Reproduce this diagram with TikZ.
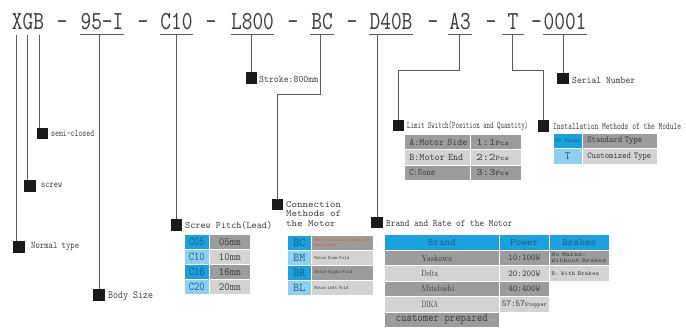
\documentclass[tikz,border=0pt]{standalone}
\usepackage{fontspec}
\usepackage{graphicx}
\definecolor{bblue}{HTML}{1BA1DE}
\definecolor{lblue}{HTML}{8DD0F1}
\definecolor{gA}{HTML}{9C9C9C}
\definecolor{gB}{HTML}{D3D3D3}
\definecolor{tblue}{HTML}{1E5A8C}
\definecolor{txtc}{HTML}{3C3C3C}
\definecolor{codec}{HTML}{3A3A3A}
\definecolor{lnc}{HTML}{5A5A5A}
\definecolor{boxc}{HTML}{1A1A1A}
\definecolor{redt}{HTML}{D9534F}
\newcommand\fw[2]{\resizebox{#1pt}{\height}{#2}}
\newcommand\cseg[1]{\scalebox{0.8}[1]{#1}}
\begin{document}
\begin{tikzpicture}[x=1pt,y=-1pt,
 code/.style={font=\fontsize{26}{26}\selectfont\ttfamily, text=codec, inner xsep=0pt, inner ysep=4pt, anchor=base},
 uline/.style={draw=lnc, line width=0.8pt},
 conn/.style={draw=lnc, line width=0.8pt},
 sq/.style={fill=boxc, minimum size=11.5pt, inner sep=0pt},
 lbl/.style={font=\fontsize{10}{12}\selectfont\ttfamily, text=txtc, inner sep=0pt, anchor=west},
 cell/.style={draw=white, line width=0.6pt, inner sep=0pt, anchor=north west, text=txtc},
 bluet/.style={text=tblue},
]
\useasboundingbox (0,0) rectangle (686,336);
\fill[white] (0,0) rectangle (686,336);
% code line
\node[code] (cxgb) at (28,30) {\cseg{XGB}};
\node[code] (cd1) at (62,30) {\cseg{-}};
\node[code] (c95) at (102,30) {\cseg{95-I}};
\node[code] (cd2) at (143,30) {\cseg{-}};
\node[code] (cc10) at (176.5,30) {\cseg{C10}};
\node[code] (cd3) at (211,30) {\cseg{-}};
\node[code] (cl800) at (252.5,30) {\cseg{L800}};
\node[code] (cd4) at (293,30) {\cseg{-}};
\node[code] (cbc) at (322,30) {\cseg{BC}};
\node[code] (cd5) at (352,30) {\cseg{-}};
\node[code] (cd40b) at (391,30) {\cseg{D40B}};
\node[code] (cd6) at (433,30) {\cseg{-}};
\node[code] (ca3) at (460,30) {\cseg{A3}};
\node[code] (cd7) at (491,30) {\cseg{-}};
\node[code] (ct) at (513,30) {\cseg{T}};
\node[code] (cd8) at (536.5,30) {\cseg{-}};
\node[code] (c0001) at (565,30) {\cseg{0001}};
% underlines
\draw[uline] (c95.south west) -- (c95.south east);
\draw[uline] (cc10.south west) -- (cc10.south east);
\draw[uline] (cl800.south west) -- (cl800.south east);
\draw[uline] ([xshift=-1pt]cbc.south west) -- ([xshift=1pt]cbc.south east);
\draw[uline] (cd40b.south west) -- (cd40b.south east);
\draw[uline] ([xshift=-1pt]ca3.south west) -- ([xshift=1pt]ca3.south east);
\draw[uline] ([xshift=-5.5pt]ct.south west) -- ([xshift=5.5pt]ct.south east);
\draw[uline] (c0001.south west) -- (c0001.south east);
% label boxes
\node[sq] (bnorm) at (19,247) {};
\node[sq] (bscrew) at (30,186) {};
\node[sq] (bsemi) at (42.5,133.5) {};
\node[sq] (bbody) at (99,295) {};
\node[sq] (bpitch) at (176.5,225) {};
\node[sq] (bconn) at (277.5,204.5) {};
\node[sq] (bbrand) at (377,222.5) {};
\node[sq] (bstroke) at (251.5,78) {};
\node[sq] (bserial) at (563,78.5) {};
\node[sq] (blimit) at (398.5,125.5) {};
\node[sq] (binst) at (543.5,126) {};
% connectors
\draw[conn] ([xshift=-3pt]cxgb.south -| bnorm.north) -- ([xshift=-3pt]bnorm.north);
\draw[conn] ([xshift=-3pt]cxgb.south -| bscrew.north) -- ([xshift=-3pt]bscrew.north);
\draw[conn] ([xshift=-3.5pt]cxgb.south -| bsemi.north) -- ([xshift=-3.5pt]bsemi.north);
\draw[conn] (c95.south -| bbody.north) -- (bbody.north);
\draw[conn] (cc10.south -| bpitch.north) -- (bpitch.north);
\draw[conn] (cl800.south -| bstroke.north) -- (bstroke.north);
\draw[conn] ([xshift=-2pt]cbc.south) -- ++(0,60) -| (bconn.north);
\draw[conn] (cd40b.south -| bbrand.north) -- (bbrand.north);
\draw[conn] ([xshift=-1pt]ca3.south) -- ++(0,36) -| (blimit.north);
\draw[conn] ([xshift=-1pt]ct.south) -- ++(0,36) -| (binst.north);
\draw[conn] (c0001.south -| bserial.north) -- (bserial.north);
% labels
\node[lbl] (lsemi) at (51,133) {\fw{43}{semi-closed}};
\node[lbl] (lscrew) at (41,185) {\fw{21}{screw}};
\node[lbl] (lnorm) at (31,247) {\fw{48}{Normal type}};
\node[lbl, font=\fontsize{11}{13}\selectfont\ttfamily] (lbody) at (108,296) {\fw{45}{Body Size}};
\node[lbl] (lpitch) at (185,225) {\fw{87}{Screw Pitch(Lead)}};
\node[lbl, font=\fontsize{9.5}{9.5}\selectfont\ttfamily] (lconn) at (286,215) {\fw{55}{\begin{tabular}{@{}l@{}}Connection\\Methods of\\the Motor\end{tabular}}};
\node[lbl] (lbrand) at (386,223) {\fw{126}{Brand and Rate of the Motor}};
\node[lbl] (lstroke) at (259,79) {\fw{59}{Stroke:800mm}};
\node[lbl] (lserial) at (572,80) {\fw{63}{Serial Number}};
\node[lbl] (llimit) at (407,126) {\fw{121}{Limit Switch(Position and Quantity)}};
\node[lbl] (linst) at (553,126) {\fw{128}{Installation Methods of the Module}};
% screw pitch table
\begin{scope}[every node/.append style={minimum height=15pt}]
\tikzset{pa/.style={cell, bluet, minimum width=25pt, font=\fontsize{12}{12}\selectfont\ttfamily},
         pb/.style={cell, minimum width=41pt, font=\fontsize{11}{11}\selectfont\ttfamily}}
\node[pa, fill=bblue] (p1a) at (184,234) {\fw{16}{C05}};
\node[pb, fill=gA] (p1b) at (209,234) {\fw{22}{05mm}};
\node[pa, fill=lblue] (p2a) at (184,249) {\fw{16}{C10}};
\node[pb, fill=gB] (p2b) at (209,249) {\fw{22}{10mm}};
\node[pa, fill=bblue] (p3a) at (184,264) {\fw{16}{C16}};
\node[pb, fill=gA] (p3b) at (209,264) {\fw{22}{16mm}};
\node[pa, fill=lblue] (p4a) at (184,279) {\fw{16}{C20}};
\node[pb, fill=gB] (p4b) at (209,279) {\fw{22}{20mm}};
% connection table
\tikzset{qa/.style={cell, bluet, minimum width=24pt, font=\fontsize{12}{12}\selectfont\ttfamily},
         qb/.style={cell, minimum width=62pt, text width=56pt, align=left, font=\fontsize{5}{5.5}\selectfont\ttfamily}}
\node[qa, fill=bblue] (q1a) at (287,235) {\fw{12}{BC}};
\node[qb, fill=gA, text=redt] (q1b) at (311,235) {\fw{56}{\begin{tabular}{@{}l@{}}Motor Installation\\Outside\end{tabular}}};
\node[qa, fill=lblue] (q2a) at (287,250) {\fw{12}{BM}};
\node[qb, fill=gB] (q2b) at (311,250) {\fw{35}{Motor Down Fold}};
\node[qa, fill=bblue] (q3a) at (287,265) {\fw{12}{BR}};
\node[qb, fill=gA] (q3b) at (311,265) {\fw{38}{Motor Right Fold}};
\node[qa, fill=lblue] (q4a) at (287,280) {\fw{12}{BL}};
\node[qb, fill=gB] (q4b) at (311,280) {\fw{34}{Motor Left Fold}};
\end{scope}
% limit switch table
\begin{scope}[every node/.append style={minimum height=15.3pt}]
\tikzset{la/.style={cell, minimum width=66pt, text width=56pt, align=left, font=\fontsize{10}{10}\selectfont\ttfamily},
         lb/.style={cell, minimum width=51pt, text width=39pt, align=left, font=\fontsize{10}{10}\selectfont\ttfamily}}
\node[la, fill=gA] (m1a) at (404,134) {\fw{58}{A:Motor Side}};
\node[lb, fill=gA] (m1b) at (470,134) {\fw{33}{1:1{\fontsize{7}{7}\selectfont Pcs}}};
\node[la, fill=gB] (m2a) at (404,149.3) {\fw{54}{B:Motor End}};
\node[lb, fill=gB] (m2b) at (470,149.3) {\fw{33}{2:2{\fontsize{7}{7}\selectfont Pcs}}};
\node[la, fill=gA] (m3a) at (404,164.6) {\fw{26}{C:None}};
\node[lb, fill=gA] (m3b) at (470,164.6) {\fw{33}{3:3{\fontsize{7}{7}\selectfont Pcs}}};
\end{scope}
% installation table
\begin{scope}[every node/.append style={minimum height=15.5pt}]
\tikzset{ia/.style={cell, bluet, minimum width=29pt},
         ib/.style={cell, minimum width=75pt, text width=65pt, align=left, font=\fontsize{9}{9}\selectfont\ttfamily}}
\node[ia, fill=bblue, font=\fontsize{6}{6}\selectfont\ttfamily] (i1a) at (553,133) {\fw{25}{No Marks}};
\node[ib, fill=gA] (i1b) at (582,133) {\fw{55}{Standard Type}};
\node[ia, fill=lblue, font=\fontsize{11}{11}\selectfont\ttfamily] (i2a) at (553,148.5) {T};
\node[ib, fill=gB] (i2b) at (582,148.5) {\fw{64}{Customized Type}};
\end{scope}
% brand table
\tikzset{hd/.style={cell, bluet, fill=bblue, minimum height=16pt, font=\fontsize{10}{10}\selectfont\ttfamily},
         br/.style={cell, minimum width=115pt, minimum height=15.4pt, text width=41pt, align=left, font=\fontsize{9}{9}\selectfont\rmfamily},
         pw/.style={cell, minimum width=50pt, minimum height=15.4pt, font=\fontsize{9}{9}\selectfont\ttfamily},
         bk/.style={cell, minimum width=60pt, minimum height=15.4pt, text width=56pt, align=left, font=\fontsize{6}{6}\selectfont\ttfamily}}
\node[hd, minimum width=115pt] (h1) at (384,234) {\fw{28}{Brand}};
\node[hd, minimum width=50pt] (h2) at (499,234) {\fw{28}{Power}};
\node[hd, minimum width=60pt] (h3) at (549,234) {\fw{34}{Brakes}};
\node[br, fill=gA] (r1a) at (384,250) {\fw{31}{Yaskawa}};
\node[br, fill=gB] (r2a) at (384,265.4) {\fw{17}{Delta}};
\node[br, fill=gA] (r3a) at (384,280.8) {\fw{33}{Mitsbishi}};
\node[br, fill=gB] (r4a) at (384,296.2) {\fw{17}{DIKA}};
\node[cell, fill=gA, minimum width=115pt, minimum height=15.4pt, font=\fontsize{12}{12}\selectfont\ttfamily] (r5a) at (384,311.6) {\fw{92}{customer prepared}};
\node[pw, fill=gA] (r1b) at (499,250) {\fw{32}{10:100W}};
\node[pw, fill=gB] (r2b) at (499,265.4) {\fw{32}{20:200W}};
\node[pw, fill=gA] (r3b) at (499,280.8) {\fw{32}{40:400W}};
\node[pw, fill=gB] (r4b) at (499,296.2) {\fw{45}{57:57{\fontsize{6}{6}\selectfont Stepper}}};
\node[bk, fill=gA] (r1c) at (549,250) {\fw{55}{\begin{tabular}{@{}l@{}}No Marks:\\Without Brakes\end{tabular}}};
\node[bk, fill=gB] (r2c) at (549,265.4) {\fw{48}{B: With Brakes}};
\end{tikzpicture}
\end{document}
